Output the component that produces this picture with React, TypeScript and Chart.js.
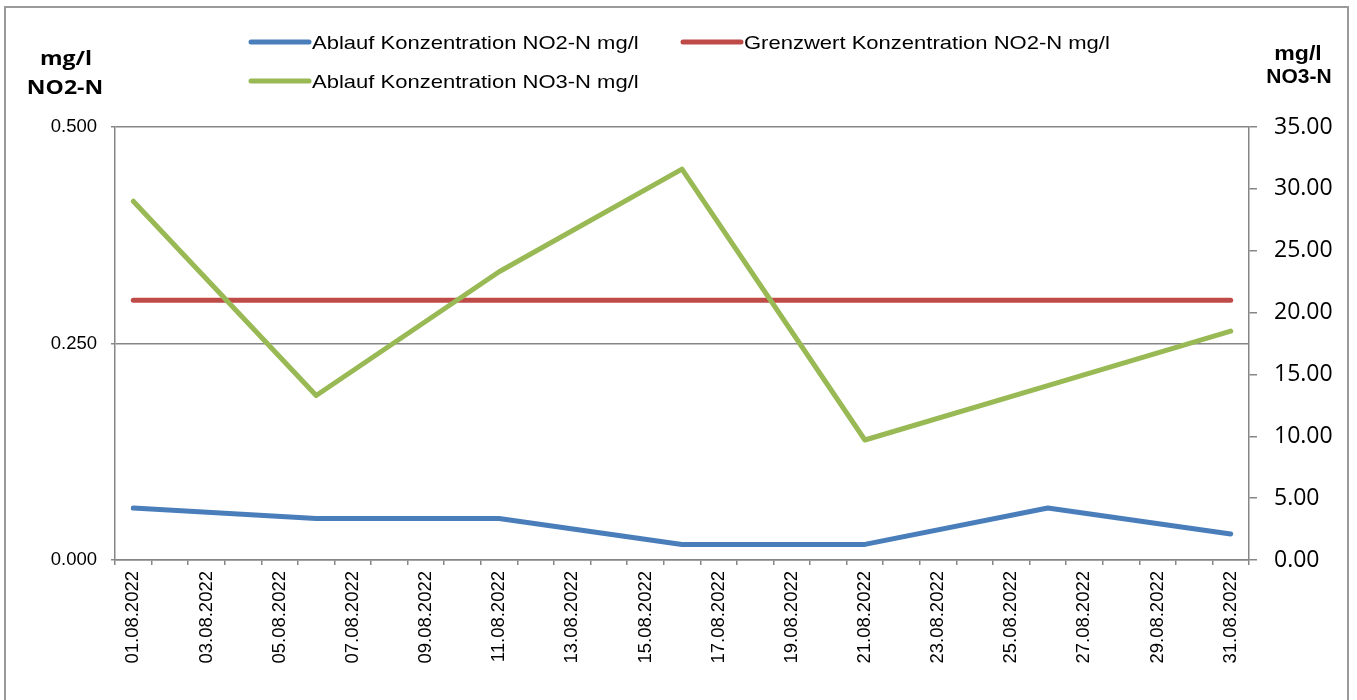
import React, { useEffect, useRef } from "react";
import { Chart, registerables } from "chart.js";

Chart.register(...registerables);

const dayLabels = [
  "01.08.2022", "02.08.2022", "03.08.2022", "04.08.2022", "05.08.2022", "06.08.2022",
  "07.08.2022", "08.08.2022", "09.08.2022", "10.08.2022", "11.08.2022", "12.08.2022",
  "13.08.2022", "14.08.2022", "15.08.2022", "16.08.2022", "17.08.2022", "18.08.2022",
  "19.08.2022", "20.08.2022", "21.08.2022", "22.08.2022", "23.08.2022", "24.08.2022",
  "25.08.2022", "26.08.2022", "27.08.2022", "28.08.2022", "29.08.2022", "30.08.2022",
  "31.08.2022",
];

const measurementDates = [
  "01.08.2022", "06.08.2022", "11.08.2022", "16.08.2022", "21.08.2022", "26.08.2022", "31.08.2022",
];
const no2Values = [0.06, 0.048, 0.048, 0.018, 0.018, 0.06, 0.03];
const no2Limit = [0.3, 0.3, 0.3, 0.3, 0.3, 0.3, 0.3];
const no3Values = [29.0, 13.3, 23.3, 31.6, 9.7, 14.1, 18.5];

const seriesLabels = [
  "Ablauf Konzentration NO2-N mg/l",
  "Grenzwert Konzentration NO2-N mg/l",
  "Ablauf Konzentration NO3-N mg/l",
];
const seriesColors = ["#4A7EBB", "#BE4B48", "#98B954"];

const leftTicks = [0, 0.25, 0.5];
const rightTickStep = 5;

const AXIS_COLOR = "#868686";

function toPoints(values: number[]) {
  return measurementDates.map((d, i) => ({ x: d, y: values[i] }));
}

function drawText(
  ctx: CanvasRenderingContext2D,
  text: string,
  x: number,
  y: number,
  font: string,
  align: CanvasTextAlign,
  sx: number
) {
  ctx.save();
  ctx.font = font;
  ctx.fillStyle = "#000";
  ctx.textAlign = align;
  ctx.textBaseline = "alphabetic";
  ctx.translate(x, y);
  ctx.scale(sx, 1);
  ctx.fillText(text, 0, 0);
  ctx.restore();
}

const overlayPlugin = {
  id: "overlay",
  afterDraw(chart: any) {
    const ctx: CanvasRenderingContext2D = chart.ctx;
    // outer frame
    ctx.save();
    ctx.strokeStyle = "#9a9a9a";
    ctx.lineWidth = 2;
    ctx.strokeRect(5, 7, 1343, 720);
    ctx.restore();

    // legend
    const items = [
      { i: 0, x1: 251, x2: 309, ly: 42, tx: 312, by: 48.5 },
      { i: 1, x1: 683, x2: 741, ly: 42, tx: 744, by: 48.5 },
      { i: 2, x1: 251, x2: 309, ly: 81, tx: 312, by: 87.5 },
    ];
    items.forEach((it) => {
      ctx.save();
      ctx.strokeStyle = seriesColors[it.i];
      ctx.lineWidth = 5;
      ctx.lineCap = "round";
      ctx.beginPath();
      ctx.moveTo(it.x1, it.ly);
      ctx.lineTo(it.x2, it.ly);
      ctx.stroke();
      ctx.restore();
      drawText(ctx, seriesLabels[it.i], it.tx, it.by, "18.5px 'Liberation Sans', Arial, sans-serif", "left", 1.19);
    });

    // axis titles
    drawText(ctx, "mg/l", 66, 65, "bold 20px 'Open Sans', sans-serif", "center", 1.15);
    drawText(ctx, "NO2-N", 65, 94, "bold 20px 'Open Sans', sans-serif", "center", 1.15);
    drawText(ctx, "mg/l", 1298, 60, "bold 21px 'Liberation Sans', Arial, sans-serif", "center", 1.1);
    drawText(ctx, "NO3-N", 1299, 83, "bold 21px 'Liberation Sans', Arial, sans-serif", "center", 1.0);
  },
};

export default function App() {
  const canvasRef = useRef<HTMLCanvasElement | null>(null);

  useEffect(() => {
    if (!canvasRef.current) return;
    const chart = new Chart(canvasRef.current, {
      type: "line",
      data: {
        labels: dayLabels,
        datasets: [
          {
            label: seriesLabels[0],
            data: toPoints(no2Values) as any,
            borderColor: seriesColors[0],
            backgroundColor: seriesColors[0],
            borderWidth: 5,
            pointRadius: 0,
            borderCapStyle: "round",
            borderJoinStyle: "round",
            yAxisID: "y",
            order: 1,
          },
          {
            label: seriesLabels[1],
            data: toPoints(no2Limit) as any,
            borderColor: seriesColors[1],
            backgroundColor: seriesColors[1],
            borderWidth: 5,
            pointRadius: 0,
            borderCapStyle: "round",
            borderJoinStyle: "round",
            yAxisID: "y",
            order: 2,
          },
          {
            label: seriesLabels[2],
            data: toPoints(no3Values) as any,
            borderColor: seriesColors[2],
            backgroundColor: seriesColors[2],
            borderWidth: 5,
            pointRadius: 0,
            borderCapStyle: "round",
            borderJoinStyle: "round",
            yAxisID: "y2",
            order: 0,
          },
        ],
      },
      options: {
        responsive: false,
        animation: false,
        devicePixelRatio: 1,
        layout: { padding: { top: 127, left: 0, right: 0, bottom: 0 } },
        plugins: {
          legend: { display: false },
          tooltip: { enabled: false },
          title: { display: false },
        },
        scales: {
          x: {
            type: "category",
            offset: true,
            grid: {
              display: true,
              drawOnChartArea: false,
              drawTicks: true,
              tickLength: 5,
              offset: true,
              color: AXIS_COLOR,
              lineWidth: 1.5,
            },
            border: { display: true, color: AXIS_COLOR, width: 1.5 },
            ticks: {
              autoSkip: false,
              maxRotation: 90,
              minRotation: 90,
              padding: 6,
              color: "#000",
              font: { family: "'Liberation Sans', Arial, sans-serif", size: 18.5 },
              callback: function (this: any, value: any, index: number) {
                return index % 2 === 0 ? dayLabels[index] : "";
              },
            },
            afterFit: (scale: any) => {
              scale.height = 140;
            },
          },
          y: {
            type: "linear",
            position: "left",
            min: leftTicks[0],
            max: leftTicks[leftTicks.length - 1],
            afterBuildTicks: (scale: any) => {
              scale.ticks = leftTicks.map((v) => ({ value: v }));
            },
            grid: {
              color: AXIS_COLOR,
              lineWidth: 1.5,
              drawTicks: true,
              tickLength: 4,
            },
            border: { display: true, color: AXIS_COLOR, width: 1.5 },
            ticks: {
              padding: 14,
              color: "#000",
              font: { family: "'Liberation Sans', Arial, sans-serif", size: 18.5 },
              callback: (v: any) => Number(v).toFixed(3),
            },
            afterFit: (scale: any) => {
              scale.width = 115;
            },
          },
          y2: {
            type: "linear",
            position: "right",
            min: 0,
            max: 35,
            ticks: {
              stepSize: rightTickStep,
              padding: 17,
              color: "#000",
              font: { family: "'Open Sans', sans-serif", size: 23 },
              callback: (v: any) => Number(v).toFixed(2),
            },
            grid: {
              drawOnChartArea: false,
              drawTicks: true,
              tickLength: 8,
              color: AXIS_COLOR,
              lineWidth: 1.5,
            },
            border: { display: true, color: AXIS_COLOR, width: 1.5 },
            afterFit: (scale: any) => {
              scale.width = 108;
            },
          },
        },
      },
      plugins: [overlayPlugin],
    });
    return () => chart.destroy();
  }, []);

  return (
    <div
      style={{
        position: "fixed",
        left: 0,
        top: 0,
        width: 1357,
        height: 700,
        background: "#fff",
      }}
    >
      <canvas ref={canvasRef} width={1357} height={700} style={{ display: "block", width: 1357, height: 700 }} />
    </div>
  );
}
